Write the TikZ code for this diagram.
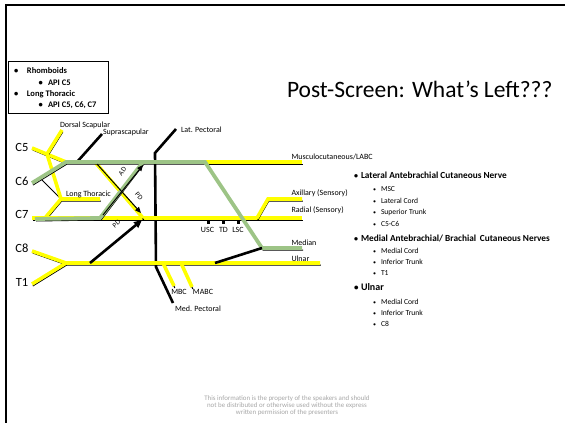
\documentclass[tikz,border=0pt]{standalone}
\usepackage{fontspec}
\setmainfont{Carlito}
\usetikzlibrary{arrows.meta}
\definecolor{hlyellow}{HTML}{FFFF00}
\definecolor{spentgreen}{HTML}{9DC486}
\definecolor{footgray}{HTML}{A6A6A6}
\newcommand\fsz[1]{\fontsize{#1}{#1}\selectfont}

\begin{document}
\begin{tikzpicture}[x=1pt,y=-1pt,
  every node/.style={inner sep=0pt,outer sep=0pt},
  nerve/.style={hlyellow,line width=3.6pt,
    preaction={draw=black,line width=1pt,transform canvas={shift={(0.8pt,-2pt)}}}},
  spentnerve/.style={spentgreen,line width=3.8pt,
    preaction={draw=black,line width=1pt,transform canvas={shift={(1pt,-2pt)}}}},
  thinblk/.style={black,line width=1pt},
  heavy/.style={black,line width=2.6pt},
  lbl/.style={font=\fsz{8},anchor=base west},
  clbl/.style={font=\fsz{8},anchor=base},
  root/.style={font=\fsz{12.5},anchor=center},
  divlbl/.style={font=\fsz{7},anchor=center},
  sq/.style={fill=black,minimum size=3pt,shape=rectangle},
  boxtxt/.style={font=\bfseries\fsz{8.5},anchor=base west},
  head/.style={font=\bfseries\fsz{9.3},anchor=base west},
  item/.style={font=\fsz{7.6},anchor=base west},
  bul/.style={font=\fsz{6},anchor=base west},
]
\useasboundingbox (0,0) rectangle (565,423);

% slide frame
\coordinate (fTop) at (565,5.2);
\coordinate (fCorner) at (6,5.2);
\coordinate (fBot) at (6,423);
\draw[black,line width=2.2pt] (fTop) -- (fCorner) -- (fBot);

% --- points of the plexus ---
\coordinate (C5s) at (32,148);
\coordinate (C6s) at (32,183);
\coordinate (C7s) at (32,218);
\coordinate (C7g) at (35,219);
\coordinate (C8s) at (32,251);
\coordinate (T1s) at (32,284);
\coordinate (ut) at (66,162);
\coordinate (dsB) at (47,154);
\coordinate (dsE) at (62,130);
\coordinate (ltJ) at (61,199);
\coordinate (ltE) at (100,199);
\coordinate (c7b) at (45,218);
\coordinate (c6b) at (40,178);
\coordinate (ssB) at (77,162);
\coordinate (ssE) at (102,134);
\coordinate (pdB) at (95,162);
\coordinate (pdJ) at (143,218);
\coordinate (adB) at (100,218);
\coordinate (adE) at (143,162);
\coordinate (lat) at (205,162);
\coordinate (musc) at (302,162);
\coordinate (medJ) at (262,248);
\coordinate (med) at (302,248);
\coordinate (mcB) at (215,263);
\coordinate (lt) at (66,263);
\coordinate (uln) at (320,263);
\coordinate (rad) at (302,218);
\coordinate (axB) at (257,218);
\coordinate (axK) at (268,199);
\coordinate (axE) at (302,199);
\coordinate (lpE) at (176,129);
\coordinate (lpK) at (155,153);
\coordinate (mpK) at (156,267);
\coordinate (mpE) at (173,303);
\coordinate (mbcB) at (163,263);
\coordinate (mbcE) at (174,286);
\coordinate (mabcB) at (181,263);
\coordinate (mabcE) at (192,287);
\coordinate (pdlB) at (90,263);
\coordinate (pdlE) at (142,220);
\coordinate (adaB) at (103,215);
\coordinate (adaE) at (143,165);
\coordinate (pdaB) at (97,164);
\coordinate (pdaE) at (141,213);

% pectoral and suprascapular nerves
\draw[heavy] (lpE) -- (lpK) -- (mpK) -- (mpE);
\draw[heavy] (ssB) -- (ssE);

% long thoracic roots and dorsal scapular
\draw[thinblk] (c6b) -- (ltJ);
\draw[nerve] (C5s) -- (ut);
\draw[nerve] (dsB) -- (dsE);
\draw[nerve] (dsB) -- (ltJ);
\draw[nerve] (c7b) -- (ltJ) -- (ltE);

% middle trunk, radial and axillary
\draw[nerve] (C7s) -- (rad);
\draw[nerve] (axB) -- (axK) -- (axE);
% posterior division of the upper trunk
\draw[nerve] (pdB) -- (pdJ);
% lateral cord to musculocutaneous
\draw[nerve] (lat) -- (musc);
% lower trunk to ulnar, with the cutaneous branches
\draw[nerve] (C8s) -- (lt);
\draw[nerve] (T1s) -- (lt) -- (uln);
\draw[nerve] (mbcB) -- (mbcE);
\draw[nerve] (mabcB) -- (mabcE);

% green: C6, upper trunk, lateral cord to median; middle trunk anterior division
\draw[spentnerve] (C6s) -- (ut) -- (lat) -- (medJ) -- (med);
\draw[spentnerve] (C7g) -- (adB) -- (adE);

% medial cord contribution to median
\draw[heavy] (mcB) -- (medJ);

% division arrows
\draw[thinblk,-{Triangle[length=6pt,width=5pt]}] (adaB) -- (adaE);
\draw[thinblk,-{Triangle[length=6pt,width=5pt]}] (pdaB) -- (pdaE);
\draw[heavy,-{Triangle[length=8pt,width=7pt]}] (pdlB) -- (pdlE);
\node[divlbl,rotate=52] (adL) at (122.5,171.5) {AD};
\node[divlbl,rotate=-49] (pdL1) at (139,196) {PD};
\node[divlbl,rotate=40] (pdL2) at (116.5,224) {PD};

% posterior cord branches
\node[sq] (uscD) at (208,222) {};
\node[sq] (tdD) at (223,222) {};
\node[sq] (lscD) at (238,222) {};
\node[clbl] (usc) at (207.5,232) {USC};
\node[clbl] (td) at (223.5,232) {TD};
\node[clbl] (lsc) at (238,232) {LSC};

% root labels
\node[root] (c5) at (22,147) {C5};
\node[root] (c6) at (22,181) {C6};
\node[root] (c7) at (22,214) {C7};
\node[root] (c8) at (22,248) {C8};
\node[root] (t1) at (22,282) {T1};

% nerve labels
\node[lbl] (dsL) at (60,127) {Dorsal Scapular};
\node[lbl] (ssL) at (103,134.5) {Suprascapular};
\node[lbl] (lpL) at (181,132) {Lat. Pectoral};
\node[lbl] (ltL) at (66,196) {Long Thoracic};
\node[lbl] (muscL) at (291.5,159.5) {Musculocutaneous/LABC};
\node[lbl] (axL) at (291.5,195) {Axillary (Sensory)};
\node[lbl] (radL) at (291.5,212) {Radial (Sensory)};
\node[lbl] (medL) at (291.5,245) {Median};
\node[lbl] (ulnL) at (291.5,261) {Ulnar};
\node[clbl] (mbcL) at (179,294.5) {MBC};
\node[clbl] (mabcL) at (203,294.5) {MABC};
\node[lbl] (mpL) at (175,311) {Med. Pectoral};

% title
\node[font=\fsz{23.5},anchor=base west] (title) at (287,97.5) {Post-Screen: What’s Left???};

% spared-nerve box
\node[draw=black,line width=0.8pt,minimum width=100pt,minimum height=51.5pt,anchor=north west] (box) at (8.3,61.7) {};
\node[boxtxt] (b1) at (14,73.4) {•};
\node[boxtxt] (b1t) at (27,73.4) {Rhomboids};
\node[boxtxt] (b2) at (38.5,85) {•};
\node[boxtxt] (b2t) at (48,85) {API C5};
\node[boxtxt] (b3) at (14,96) {•};
\node[boxtxt] (b3t) at (27,96) {Long Thoracic};
\node[boxtxt] (b4) at (38.5,107.6) {•};
\node[boxtxt] (b4t) at (48,107.6) {API C5, C6, C7};

% remaining-nerve list
\node[bul,font=\bfseries\fsz{8}] (h1b) at (354,178.5) {•};
\node[head] (h1) at (361,178.5) {Lateral Antebrachial Cutaneous Nerve};
\node[bul] (s11b) at (373,191.8) {•};
\node[item] (s11) at (381,191.8) {MSC};
\node[bul] (s12b) at (373,203.2) {•};
\node[item] (s12) at (381,203.2) {Lateral Cord};
\node[bul] (s13b) at (373,214.8) {•};
\node[item] (s13) at (381,214.8) {Superior Trunk};
\node[bul] (s14b) at (373,226.8) {•};
\node[item] (s14) at (381,226.8) {C5-C6};
\node[bul,font=\bfseries\fsz{8}] (h2b) at (354,241) {•};
\node[head] (h2) at (361,241) {Medial Antebrachial/ Brachial\, Cutaneous Nerves};
\node[bul] (s21b) at (373,253.2) {•};
\node[item] (s21) at (381,253.2) {Medial Cord};
\node[bul] (s22b) at (373,264.2) {•};
\node[item] (s22) at (381,264.2) {Inferior Trunk};
\node[bul] (s23b) at (373,275.2) {•};
\node[item] (s23) at (381,275.2) {T1};
\node[bul,font=\bfseries\fsz{9}] (h3b) at (354,290) {•};
\node[head,font=\bfseries\fsz{10}] (h3) at (361,290) {Ulnar};
\node[bul] (s31b) at (373,304.8) {•};
\node[item] (s31) at (381,304.8) {Medial Cord};
\node[bul] (s32b) at (373,315.8) {•};
\node[item] (s32) at (381,315.8) {Inferior Trunk};
\node[bul] (s33b) at (373,326.8) {•};
\node[item] (s33) at (381,326.8) {C8};

% footer notice
\node[font=\fontsize{6.9}{7.1}\selectfont,text=footgray,align=center,anchor=center] (foot) at (287,406)
  {This information is the property of the speakers and should\\
   not be distributed or otherwise used without the express\\
   written permission of the presenters};
\end{tikzpicture}
\end{document}
